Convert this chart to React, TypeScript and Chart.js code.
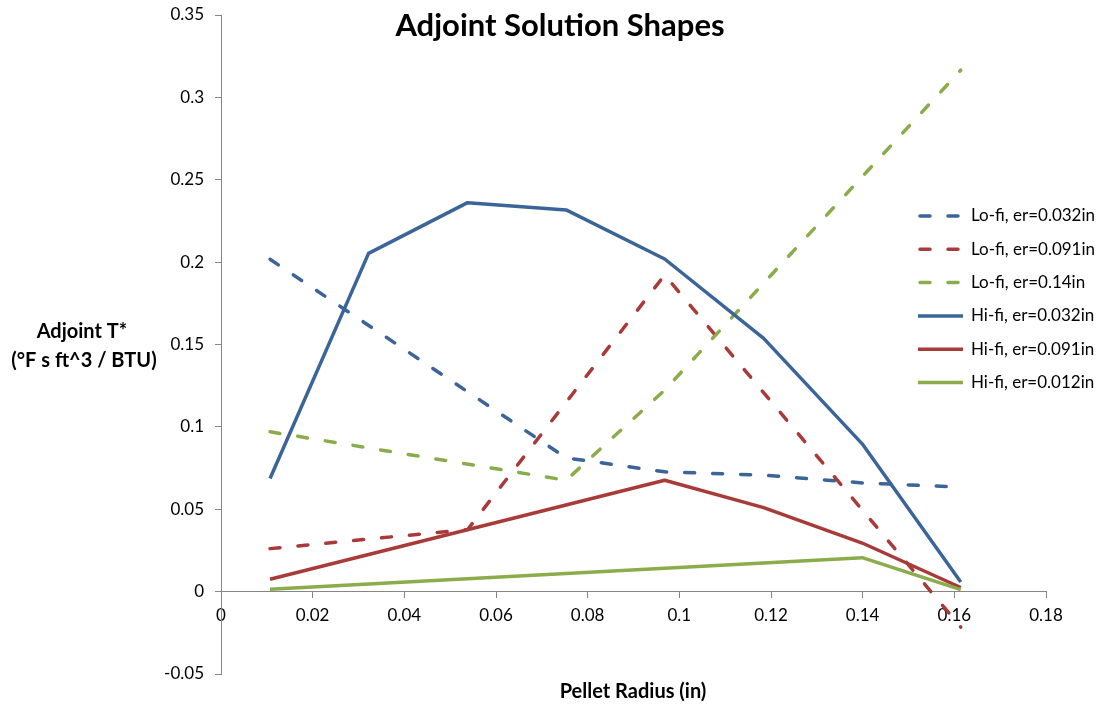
import React, { useEffect, useRef } from "react";
import { Chart, registerables } from "chart.js";

Chart.register(...registerables);

// ---- Data ----
const xTickValues = [0, 0.02, 0.04, 0.06, 0.08, 0.1, 0.12, 0.14, 0.16, 0.18];
const xTickLabels = ["0", "0.02", "0.04", "0.06", "0.08", "0.1", "0.12", "0.14", "0.16", "0.18"];
const yTickValues = [-0.05, 0, 0.05, 0.1, 0.15, 0.2, 0.25, 0.3, 0.35];
const yTickLabels = ["-0.05", "0", "0.05", "0.1", "0.15", "0.2", "0.25", "0.3", "0.35"];

const seriesNames = [
  "Lo-fi, er=0.032in",
  "Lo-fi, er=0.091in",
  "Lo-fi, er=0.14in",
  "Hi-fi, er=0.032in",
  "Hi-fi, er=0.091in",
  "Hi-fi, er=0.012in",
];

const loFi032X = [0.0107, 0.0753, 0.0968, 0.1184, 0.1399, 0.1614];
const loFi032Y = [0.2017, 0.0812, 0.0727, 0.0707, 0.066, 0.0634];
const loFi091X = [0.0107, 0.0538, 0.0968, 0.1614];
const loFi091Y = [0.0261, 0.0377, 0.1922, -0.0215];
const loFi14X = [0.0107, 0.0753, 0.0968, 0.1614];
const loFi14Y = [0.097, 0.0676, 0.1223, 0.3165];
const hiFi032X = [0.0107, 0.0322, 0.0538, 0.0753, 0.0968, 0.1184, 0.1399, 0.1614];
const hiFi032Y = [0.0687, 0.2053, 0.2361, 0.2317, 0.2019, 0.1537, 0.0897, 0.0058];
const hiFi091X = [0.0107, 0.0968, 0.1184, 0.1399, 0.1614];
const hiFi091Y = [0.0075, 0.0676, 0.051, 0.0295, 0.0025];
const hiFi012X = [0.0107, 0.1399, 0.1614];
const hiFi012Y = [0.0015, 0.0206, 0.0012];

const titleText = "Adjoint Solution Shapes";
const yTitleLines = ["Adjoint T*", "(°F s ft^3 / BTU)"];
const xTitle = "Pellet Radius (in)";

// ---- Styles ----
const BLUE = "#3B6598";
const RED = "#A83B39";
const GREEN = "#8BAC4B";
const AXIS = "#868686";
const FONT = "Lato, 'Open Sans', sans-serif";
const DASH = [10, 18];

const seriesX = [loFi032X, loFi091X, loFi14X, hiFi032X, hiFi091X, hiFi012X];
const seriesY = [loFi032Y, loFi091Y, loFi14Y, hiFi032Y, hiFi091Y, hiFi012Y];
const seriesColors = [BLUE, RED, GREEN, BLUE, RED, GREEN];
const seriesDashed = [true, true, true, false, false, false];

const overlayPlugin = {
  id: "overlay",
  afterDraw(chart: any) {
    const ctx = chart.ctx as CanvasRenderingContext2D;
    ctx.save();
    ctx.fillStyle = "#000";
    ctx.textAlign = "center";
    ctx.textBaseline = "alphabetic";
    ctx.font = `bold 31px ${FONT}`;
    ctx.fillText(titleText, 560, 36);
    ctx.font = `bold 20px ${FONT}`;
    ctx.fillText(yTitleLines[0], 82, 338);
    ctx.fillText(yTitleLines[1], 84, 367);
    ctx.fillText(xTitle, 633, 698);

    // legend
    ctx.textAlign = "left";
    ctx.textBaseline = "middle";
    ctx.font = `17px ${FONT}`;
    seriesNames.forEach((name, i) => {
      const y = 216 + i * 33.3;
      ctx.save();
      ctx.strokeStyle = seriesColors[i];
      ctx.lineWidth = 3.5;
      ctx.lineCap = seriesDashed[i] ? "round" : "butt";
      ctx.setLineDash(seriesDashed[i] ? DASH : []);
      ctx.beginPath();
      ctx.moveTo(seriesDashed[i] ? 920 : 918, y);
      ctx.lineTo(seriesDashed[i] ? 961 : 963, y);
      ctx.stroke();
      ctx.restore();
      ctx.fillStyle = "#000";
      ctx.fillText(name, 971, y);
    });
    ctx.restore();
  },
};

export default function App() {
  const canvasRef = useRef<HTMLCanvasElement | null>(null);

  useEffect(() => {
    if (!canvasRef.current) return;
    const datasets = seriesNames.map((name, i) => ({
      label: name,
      data: seriesX[i].map((x, j) => ({ x, y: seriesY[i][j] })),
      showLine: true,
      borderColor: seriesColors[i],
      backgroundColor: seriesColors[i],
      borderWidth: 3.5,
      borderDash: seriesDashed[i] ? DASH : [],
      borderCapStyle: seriesDashed[i] ? "round" : "butt",
      borderJoinStyle: "round",
      pointRadius: 0,
      pointHoverRadius: 0,
      tension: 0,
      fill: false,
      order: 6 - i,
    }));

    const chart = new Chart(canvasRef.current, {
      type: "scatter",
      data: { datasets: datasets as any },
      options: {
        animation: false,
        responsive: false,
        maintainAspectRatio: false,
        layout: { padding: { left: 0, top: 15, right: 52, bottom: 32 } },
        plugins: {
          legend: { display: false },
          title: { display: false },
          tooltip: { enabled: false },
        },
        scales: {
          x: {
            type: "linear",
            position: { y: 0 } as any,
            min: 0,
            max: 0.18,
            afterBuildTicks: (s: any) => {
              s.ticks = xTickValues.map((v) => ({ value: v }));
            },
            afterFit: (s: any) => {
              s.paddingLeft = 0;
              s.paddingRight = 0;
            },
            ticks: {
              autoSkip: false,
              maxRotation: 0,
              color: "#000",
              padding: 8,
              font: { family: FONT, size: 17 },
              callback: (v: any) => {
                const idx = xTickValues.findIndex((t) => Math.abs(t - Number(v)) < 1e-9);
                return idx >= 0 ? xTickLabels[idx] : "";
              },
            },
            grid: { drawOnChartArea: false, drawTicks: true, tickLength: 6, color: AXIS },
            border: { color: AXIS, width: 1 },
          } as any,
          y: {
            type: "linear",
            position: "left",
            min: -0.05,
            max: 0.35,
            afterBuildTicks: (s: any) => {
              s.ticks = yTickValues.map((v) => ({ value: v }));
            },
            afterFit: (s: any) => {
              s.width = 221;
              s.paddingTop = 0;
              s.paddingBottom = 0;
            },
            ticks: {
              color: "#000",
              padding: 11,
              font: { family: FONT, size: 17 },
              callback: (v: any) => {
                const idx = yTickValues.findIndex((t) => Math.abs(t - Number(v)) < 1e-9);
                return idx >= 0 ? yTickLabels[idx] : "";
              },
            },
            grid: { drawOnChartArea: false, drawTicks: true, tickLength: 6, color: AXIS },
            border: { color: AXIS, width: 1 },
          } as any,
        },
      },
      plugins: [overlayPlugin],
    });
    return () => chart.destroy();
  }, []);

  return (
    <div style={{ position: "absolute", left: 0, top: 0, width: 1098, height: 706, background: "#fff" }}>
      <canvas ref={canvasRef} width={1098} height={706} style={{ display: "block" }} />
    </div>
  );
}
